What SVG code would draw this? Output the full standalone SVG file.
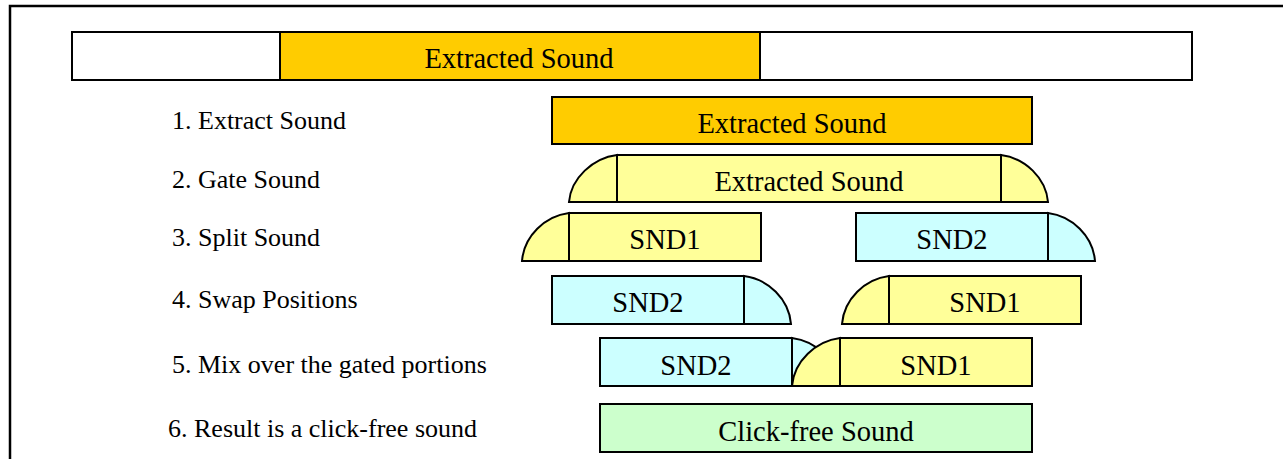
<svg xmlns="http://www.w3.org/2000/svg" width="1285" height="459" viewBox="0 0 1285 459">
<style>
.b{stroke:#000;stroke-width:2;}
.o{fill:#FFCC00}.y{fill:#FFFF99}.c{fill:#CCFFFF}.g{fill:#CCFFCC}.w{fill:#fff}
.lbl{font-family:'Liberation Serif','Times New Roman','DejaVu Serif',serif;font-size:26px;fill:#000}
.t{font-family:'Liberation Serif','Times New Roman','DejaVu Serif',serif;font-size:28.5px;fill:#000;text-anchor:middle}
</style>
<rect width="1285" height="459" fill="#fff"/>
<path d="M10,459 V6 H1283" fill="none" stroke="#000" stroke-width="2.5"/>

<g id="top-bar">
<rect class="b w" x="72" y="32" width="1120" height="48"/>
<rect class="b o" x="280" y="32" width="480" height="48"/>
<text class="t" x="519" y="68">Extracted Sound</text>
</g>

<g id="labels">
<text class="lbl" x="172" y="129">1. Extract Sound</text>
<text class="lbl" x="172" y="188">2. Gate Sound</text>
<text class="lbl" x="172" y="246">3. Split Sound</text>
<text class="lbl" x="172" y="308">4. Swap Positions</text>
<text class="lbl" x="172" y="373">5. Mix over the gated portions</text>
<text class="lbl" x="168" y="437">6. Result is a click-free sound</text>
</g>

<g id="row1">
<rect class="b o" x="552" y="97" width="480" height="47"/>
<text class="t" x="792" y="133">Extracted Sound</text>
</g>

<g id="row2">
<path class="b y" d="M617,155 C593,158 571,178 569,202 L617,202 Z"/>
<rect class="b y" x="617" y="155" width="384" height="47"/>
<path class="b y" d="M1001,155 C1025,158 1046,178 1048,202 L1001,202 Z"/>
<text class="t" x="809" y="191">Extracted Sound</text>
</g>

<g id="row3-snd1">
<path class="b y" d="M569,213 C545,216 524,236 522,261 L569,261 Z"/>
<rect class="b y" x="569" y="213" width="192" height="48"/>
<text class="t" x="665" y="249">SND1</text>
</g>
<g id="row3-snd2">
<rect class="b c" x="856" y="213" width="192" height="48"/>
<path class="b c" d="M1048,213 C1072,216 1093,236 1095,261 L1048,261 Z"/>
<text class="t" x="952" y="249">SND2</text>
</g>

<g id="row4-snd2">
<rect class="b c" x="552" y="276" width="192" height="48"/>
<path class="b c" d="M744,276 C768,279 789,299 791,324 L744,324 Z"/>
<text class="t" x="648" y="312">SND2</text>
</g>
<g id="row4-snd1">
<path class="b y" d="M889,276 C865,279 844,299 842,324 L889,324 Z"/>
<rect class="b y" x="889" y="276" width="192" height="48"/>
<text class="t" x="985" y="312">SND1</text>
</g>

<g id="row5-snd2">
<rect class="b c" x="600" y="338" width="192" height="48"/>
<path class="b c" d="M792,338 C816,341 838,361 840,386 L792,386 Z"/>
<text class="t" x="696" y="375">SND2</text>
</g>
<g id="row5-snd1">
<path class="b y" d="M840,338 C816,341 794,361 792,386 L840,386 Z"/>
<rect class="b y" x="840" y="338" width="192" height="48"/>
<text class="t" x="936" y="375">SND1</text>
</g>

<g id="row6">
<rect class="b g" x="600" y="404" width="432" height="48"/>
<text class="t" x="816" y="441">Click-free Sound</text>
</g>
<g id="connectors"></g>
</svg>
